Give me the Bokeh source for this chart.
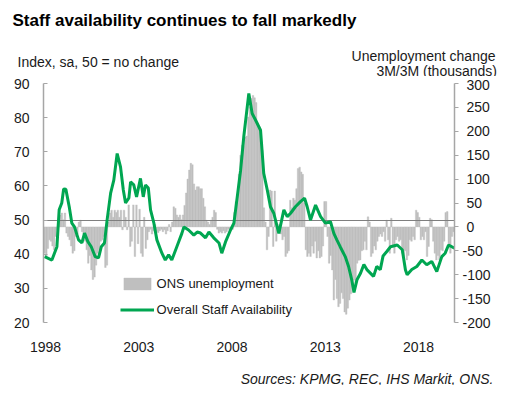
from bokeh.plotting import figure
from bokeh.layouts import column
from bokeh.models import (Range1d, LinearAxis, FixedTicker, Label, Legend,
                          LegendItem)
from bokeh.embed import file_html
from bokeh.resources import INLINE

# ---------------- data ----------------
title_text = "Staff availability continues to fall markedly"
left_title = "Index, sa, 50 = no change"
right_title_1 = "Unemployment change"
right_title_2 = "3M/3M (thousands)"
source_text = "Sources: KPMG, REC, IHS Markit, ONS."
legend_bar = "ONS unemployment"
legend_line = "Overall Staff Availability"

year_ticks = [1998, 2003, 2008, 2013, 2018]
left_ticks = [20, 30, 40, 50, 60, 70, 80, 90]
right_ticks = [-200, -150, -100, -50, 0, 50, 100, 150, 200, 250, 300]
no_change_level = [50]

# Overall Staff Availability index (decimal year, value)
staff_year = [1997.95, 1998.34, 1998.61, 1998.73, 1998.87, 1998.97,
              1999.09, 1999.27, 1999.41, 1999.55, 1999.77, 1999.95,
              2000.09, 2000.27, 2000.45, 2000.66, 2000.84, 2000.99,
              2001.16, 2001.30, 2001.49, 2001.66, 2001.84,
              2002.02, 2002.17, 2002.29, 2002.47, 2002.56, 2002.73, 2002.88,
              2003.09, 2003.24, 2003.36, 2003.51, 2003.63, 2003.81, 2003.97,
              2004.24, 2004.42, 2004.60, 2004.77,
              2005.04, 2005.31, 2005.42, 2005.67, 2005.95,
              2006.13, 2006.31, 2006.58, 2006.76,
              2007.02, 2007.30, 2007.45, 2007.65, 2007.92,
              2008.10, 2008.28, 2008.46, 2008.63, 2008.90,
              2009.08, 2009.26, 2009.53, 2009.70, 2009.89,
              2010.06, 2010.24, 2010.51, 2010.78, 2010.96,
              2011.14, 2011.40, 2011.67, 2011.89,
              2012.03, 2012.21, 2012.48, 2012.75,
              2013.01, 2013.28, 2013.46, 2013.62, 2013.80,
              2014.07, 2014.25, 2014.42, 2014.54, 2014.70, 2014.89,
              2015.07, 2015.23, 2015.43, 2015.59, 2015.76, 2015.95,
              2016.10, 2016.30, 2016.50, 2016.86,
              2017.13, 2017.30, 2017.39, 2017.64, 2017.91,
              2018.18, 2018.44, 2018.71, 2018.98,
              2019.25, 2019.43, 2019.61, 2019.93]
staff_index = [39.3,
               38.3, 42.2, 53, 55, 59.1,
               59, 53.9, 49.1, 48, 44.2, 43.3,
               46.2, 43.7, 42.2, 39.3, 38.9, 42.2,
               43.3, 50, 57.9, 61.7, 69.5,
               65.6, 58.8, 55, 56.5, 61.2, 60.3, 56.8,
               62.2, 56.8, 60.3, 59.4, 53, 49.1, 44.2,
               40.3, 38.3, 39.8, 38.3,
               42.2, 46.1, 48, 47.1, 45.6,
               46.5, 46.2, 44.8, 46.5,
               44.8, 43.3, 40.3, 43.6, 47.1,
               49.1, 56.8, 64.6, 74.4, 87.1,
               81.2, 79.3, 76.3, 63.7, 58.8,
               53.9, 52, 46.1, 53, 51,
               52, 53.9, 55.4, 56.4,
               53.9, 50, 54.4, 51,
               49.1, 49.5, 46.1, 44.2, 42.2,
               39.3, 36.4, 32.5, 28.8, 32.5, 34.4,
               37, 35.5, 34.4, 33.5, 36.4, 35.5,
               39.5, 40.8, 42.2, 42.7,
               41.3, 35.4, 34, 35.5, 36.4,
               38.3, 36.9, 37.9, 34.9,
               39.3, 40.3, 42.7, 41.8]

# ONS unemployment change 3M/3M (thousands), monthly from Nov 1997
ons_first_month = 1997 + 10 / 12
ons_change = [
    -60, -55,
    -62, -45, -27, -30, -40, -48, -20, -6, 10, 25, 29, 15,          # 1998
    29, -13, -20, -27, -40, -55, -50, -20, -15, 10, 14, -10,        # 1999
    -15, -30, -48, -76, -60, -90, -110, -105, -80, -55, -48, -30,   # 2000
    -27, -20, -85, -80, 10, 29, 35, 20, 35, 30, 35, 20,             # 2001
    35, -6, 35, 20, -6, 46, -41, -30, 46, -62, 46, -35,             # 2002
    37, -55, -62, 20, -45, -27, -10, -5, -15, -8, 5, -10,           # 2003
    -12, -8, -5, -10, -6, -15, -8, 5, -10, 10, 42, 39,              # 2004
    25, 20, 25, 15, 25, 45, 71, 100, 119, 133, 130, 90,             # 2005
    77, 84, 84, 80, 80, 60, 42, 14, 10, 5, 14, 20,                  # 2006
    35, 30, -5, -13, -10, -13, -8, -13, -10, -5, -13, -6,           # 2007
    -5, 30, 53, 50, 110, 150, 171, 168, 188, 190, 230, 251,         # 2008
    269, 275, 270, 260, 217, 210, 175, 160, 40, 10, -48, -20,       # 2009
    77, 75, -41, 75, -30, -10, 5, -15, -27, -20, -62, -55,          # 2010
    -50, 56, 40, 60, 56, 80, 122, 125, 115, 110, 50, -48,           # 2011
    -62, -55, -62, -40, -55, -30, -65, -50, -65, -62, -40, 53,      # 2012
    53, -20, -76, -60, -90, -153, -110, -150, -167, -160, -138, -150,  # 2013
    -178, -183, -170, -153, -140, -125, -111, -120, -76, -70, -69, -50,  # 2014
    -48, -30, -48, 21, 10, -62, -55, -40, -48, -30, -20, -15,       # 2015
    -20, -10, -30, 14, -27, -55, 18, -40, -55, -27, -20, -30,       # 2016
    -27, -55, -62, -50, -69, -60, -27, -30, -20, -27, 35, 30,       # 2017
    20, -27, -20, -27, -10, -62, -41, 18, 15, -30, -55, -69,        # 2018
    -60, -69, -48, -50, -30, 30, 32, -41, -55, -20, -10, -20,       # 2019
]
ons_month = [ons_first_month + i / 12 + 1 / 24 for i in range(len(ons_change))]

# ---------------- styling ----------------
FONT = "Liberation Sans"
TXT = "#1a1a1a"
AXIS = "#A6A6A6"
GREEN = "#00A651"
GREY = "#BFBFBF"
W = 510


def text_panel(height):
    f = figure(width=W, height=height, output_backend="svg",
               toolbar_location=None, x_range=Range1d(0, W),
               y_range=Range1d(0, height), x_axis_type=None, y_axis_type=None,
               min_border=0, min_border_left=0, min_border_right=0,
               min_border_top=0, min_border_bottom=0, frame_align=False)
    f.xgrid.visible = False
    f.ygrid.visible = False
    f.outline_line_color = None
    f.background_fill_alpha = 0
    f.border_fill_alpha = 0
    return f


def add_label(fig, x, y, text, size, align="left", style="normal", color=TXT):
    fig.add_layout(Label(x=x, y=y, text=text, text_font=FONT,
                         text_font_size=size, text_color=color,
                         text_font_style=style, text_align=align,
                         text_baseline="alphabetic"))


# header
HEAD_H = 76
head = text_panel(HEAD_H)
add_label(head, 12, HEAD_H - 19.5, title_text, "17px", style="bold", color="#000000")
add_label(head, 17, HEAD_H - 61.5, left_title, "14px")
add_label(head, 495, HEAD_H - 55.5, right_title_1, "14px", align="right")
add_label(head, 496.5, HEAD_H - 70, right_title_2, "14px", align="right")

# main chart
p = figure(width=W, height=279, output_backend="svg", toolbar_location=None,
           x_range=Range1d(1997.89, 2019.93), y_range=Range1d(20, 90),
           min_border_left=43, min_border_right=W - 454, min_border_top=7,
           min_border_bottom=33, frame_align=False)
p.extra_y_ranges = {"unemp": Range1d(-200, 300)}
p.xgrid.visible = False
p.ygrid.visible = False
p.outline_line_color = None
p.background_fill_color = "white"
p.border_fill_alpha = 0

bars = p.vbar(x=ons_month, top=ons_change, bottom=0, width=1 / 12,
              y_range_name="unemp", fill_color=GREY, line_color=GREY,
              line_width=0.4)
p.hspan(y=no_change_level, line_color="#7F7F7F", line_width=1)
line = p.line(staff_year, staff_index, line_color=GREEN, line_width=3)

xa = p.xaxis[0]
xa.ticker = FixedTicker(ticks=year_ticks)
xa.axis_line_color = None
xa.major_tick_line_color = None
xa.minor_tick_line_color = None
xa.major_label_standoff = 13
xa.major_label_text_font = FONT
xa.major_label_text_font_size = "14px"
xa.major_label_text_color = TXT

ya = p.yaxis[0]
ya.ticker = FixedTicker(ticks=left_ticks)
ya.axis_line_color = AXIS
ya.axis_line_width = 1.5
ya.major_tick_line_color = AXIS
ya.major_tick_in = 4
ya.major_tick_out = 0
ya.minor_tick_line_color = None
ya.major_label_standoff = 14
ya.major_label_text_font = FONT
ya.major_label_text_font_size = "14px"
ya.major_label_text_color = TXT

overrides = {t: ("\u00a0" + str(t) if t >= 0 else str(t)) for t in right_ticks}
ra = LinearAxis(y_range_name="unemp", ticker=FixedTicker(ticks=right_ticks),
                major_label_overrides=overrides)
ra.axis_line_color = AXIS
ra.axis_line_width = 1.5
ra.major_tick_line_color = AXIS
ra.major_tick_in = 0
ra.major_tick_out = 4
ra.minor_tick_line_color = None
ra.major_label_standoff = 4
ra.major_label_text_font = FONT
ra.major_label_text_font_size = "14px"
ra.major_label_text_color = TXT
p.add_layout(ra, "right")

legend = Legend(items=[LegendItem(label=legend_bar, renderers=[bars]),
                       LegendItem(label=legend_line, renderers=[line])],
                location=(76.6, 5), orientation="vertical",
                glyph_width=34, glyph_height=15, label_height=15,
                label_standoff=3, spacing=11, padding=0, margin=0,
                border_line_color=None, background_fill_alpha=0,
                label_text_font=FONT, label_text_font_size="13px",
                label_text_color=TXT)
p.add_layout(legend)

# footer
foot = text_panel(30)
add_label(foot, 493, 7, source_text, "14px", align="right", style="italic")

layout = column(head, p, foot, spacing=0)
open("out.html", "w").write(file_html(layout, INLINE))
